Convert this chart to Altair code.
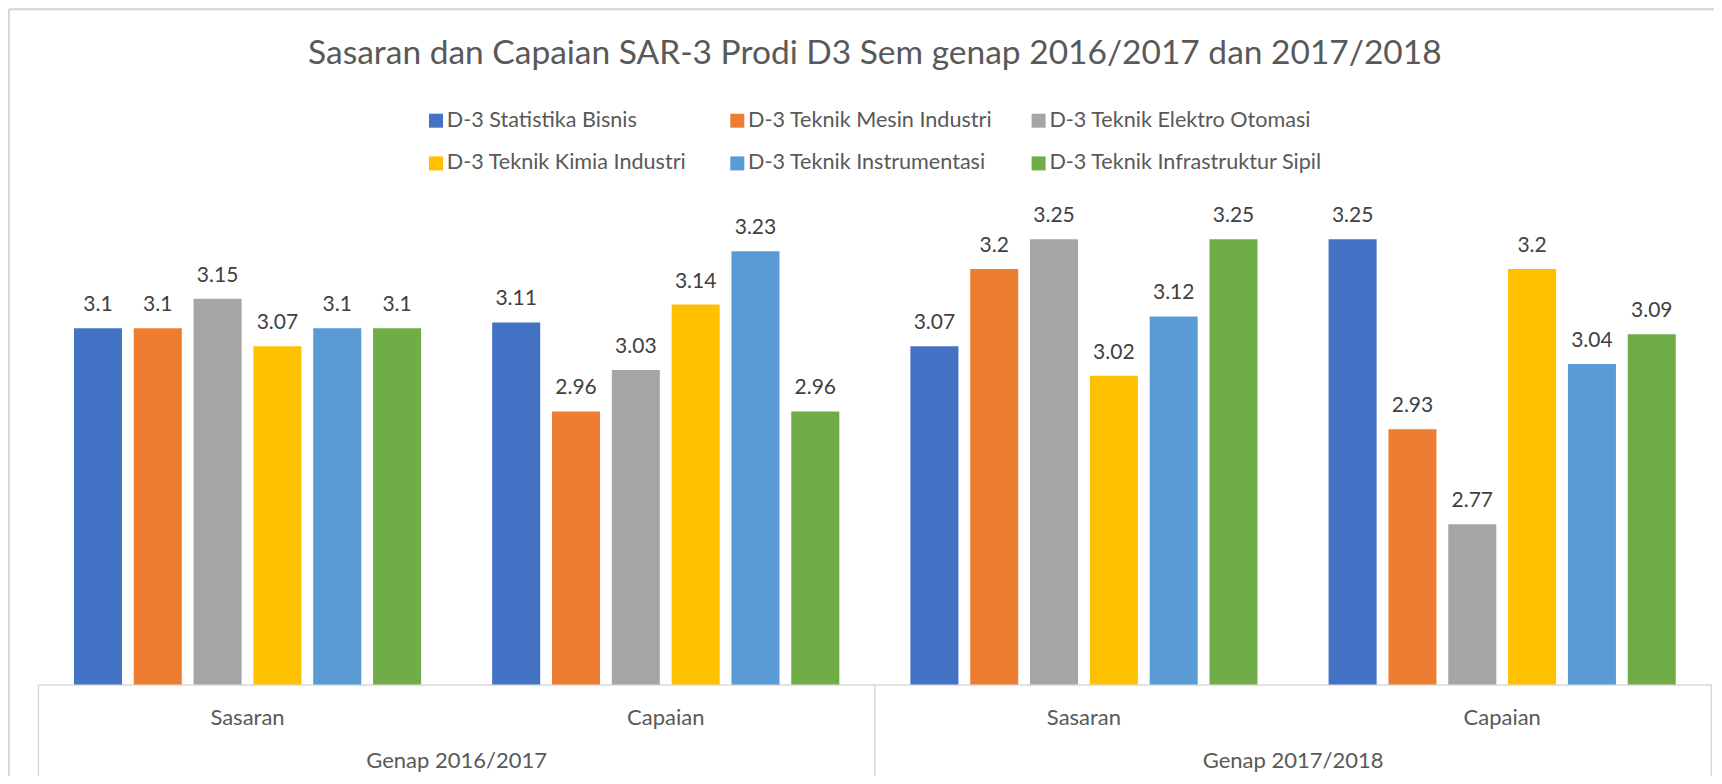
import altair as alt
import pandas as pd

title_text = "Sasaran dan Capaian SAR-3 Prodi D3 Sem genap 2016/2017 dan 2017/2018"
programs = [
    "D-3 Statistika Bisnis",
    "D-3 Teknik Mesin Industri",
    "D-3 Teknik Elektro Otomasi",
    "D-3 Teknik Kimia Industri",
    "D-3 Teknik Instrumentasi",
    "D-3 Teknik Infrastruktur Sipil",
]
colors = ["#4472C4", "#ED7D31", "#A5A5A5", "#FFC000", "#5B9BD5", "#70AD47"]
years = ["Genap 2016/2017", "Genap 2017/2018"]
kinds = ["Sasaran", "Capaian"]
y_min, y_max = 2.5, 3.3

sasaran_1617 = [3.1, 3.1, 3.15, 3.07, 3.1, 3.1]
capaian_1617 = [3.11, 2.96, 3.03, 3.14, 3.23, 2.96]
sasaran_1718 = [3.07, 3.2, 3.25, 3.02, 3.12, 3.25]
capaian_1718 = [3.25, 2.93, 2.77, 3.2, 3.04, 3.09]

series = {
    (years[0], kinds[0]): sasaran_1617,
    (years[0], kinds[1]): capaian_1617,
    (years[1], kinds[0]): sasaran_1718,
    (years[1], kinds[1]): capaian_1718,
}

cats = [f"{y}|{k}" for y in years for k in kinds]
rows = []
for (y, k), vals in series.items():
    for p, v in zip(programs, vals):
        rows.append({"cat": f"{y}|{k}", "program": p, "value": v})
df = pd.DataFrame(rows)

W, H = 1672.9, 475.0
TXT = "#595959"
LINE = "#D9D9D9"
FONT = "Lato"

xcat = alt.X(
    "cat:N",
    sort=cats,
    scale=alt.Scale(domain=cats, paddingInner=0, paddingOuter=0),
    axis=alt.Axis(
        title=None,
        labelExpr="split(datum.value, '|')[1]",
        labelAngle=0,
        labelAlign="center",
        ticks=False,
        tickSize=0,
        domain=True,
        domainColor=LINE,
        domainWidth=1.5,
        labelPadding=39.5,
        labelBaseline="alphabetic",
        labelFont=FONT,
        labelFontSize=22,
        labelColor=TXT,
    ),
)
xoff = alt.XOffset(
    "program:N",
    sort=programs,
    scale=alt.Scale(domain=programs, paddingInner=0.197, paddingOuter=0.594),
)
yenc = alt.Y(
    "value:Q",
    scale=alt.Scale(domain=[y_min, y_max], zero=False, nice=False),
    axis=None,
)

bars = alt.Chart(df).mark_bar().encode(
    x=xcat,
    xOffset=xoff,
    y=yenc,
    y2=alt.Y2(datum=y_min),
    color=alt.Color(
        "program:N",
        sort=programs,
        scale=alt.Scale(domain=programs, range=colors),
        legend=alt.Legend(
            title=None,
            orient="none",
            legendX=386.8,
            legendY=-100,
            columns=3,
            direction="horizontal",
            gridAlign="all",
            columnPadding=6.3,
            rowPadding=20,
            symbolType="square",
            symbolSize=196,
            symbolStrokeWidth=0,
            labelOffset=0,
            labelFont=FONT,
            labelFontSize=21.6,
            labelColor=TXT,
            labelLimit=0,
        ),
    ),
)

labels = alt.Chart(df).mark_text(
    baseline="alphabetic", dy=-17, font=FONT, fontSize=21, color="#404040"
).encode(x=xcat, xOffset=xoff, y=yenc, text=alt.Text("value:Q"))

# year labels and dividers of the two-level category axis
year_df = pd.DataFrame({"cat": [cats[0], cats[2]], "year": years})
year_labels = alt.Chart(year_df).mark_text(
    baseline="alphabetic", font=FONT, fontSize=22, color=TXT
).encode(
    x=alt.X("cat:N", sort=cats, bandPosition=1),
    y=alt.value(H + 83.5),
    text="year:N",
)

div_start = pd.DataFrame({"cat": [cats[0], cats[2]]})
div_end = pd.DataFrame({"cat": [cats[3]]})
dividers_a = alt.Chart(div_start).mark_rule(color=LINE, strokeWidth=1.5).encode(
    x=alt.X("cat:N", sort=cats, bandPosition=0),
    y=alt.value(H),
    y2=alt.value(H + 93),
)
dividers_b = alt.Chart(div_end).mark_rule(color=LINE, strokeWidth=1.5).encode(
    x=alt.X("cat:N", sort=cats, bandPosition=1),
    y=alt.value(H),
    y2=alt.value(H + 93),
)

# chart-area frame
frame_left = alt.Chart(year_df).mark_rule(color=LINE, strokeWidth=2).encode(
    x=alt.value(-29.4), y=alt.value(-200.3), y2=alt.value(H + 100)
)
frame_top = alt.Chart(year_df).mark_rule(color=LINE, strokeWidth=2).encode(
    x=alt.value(-29.4), x2=alt.value(W + 10), y=alt.value(-200.3)
)

chart = (
    alt.layer(frame_left, frame_top, dividers_a, dividers_b, bars, labels, year_labels)
    .properties(
        width=W,
        height=H,
        background="white",
        padding={"left": 30.4, "top": 201.6, "right": 2.7, "bottom": 91.4},
        autosize=alt.AutoSizeParams(type="none"),
        title=alt.TitleParams(
            title_text,
            anchor="middle",
            frame="group",
            font=FONT,
            fontSize=33.5,
            fontWeight="normal",
            color=TXT,
            offset=0,
            baseline="alphabetic",
            dy=88.7,
        ),
    )
    .configure_view(stroke="transparent", strokeWidth=0)
)

chart.save("out.html", embed_options={"renderer": "svg", "actions": False})
